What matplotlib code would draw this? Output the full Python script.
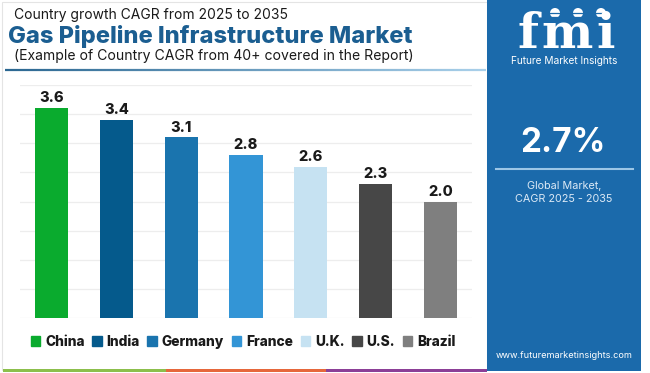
import matplotlib.pyplot as plt
import matplotlib.patches as mpatches
from matplotlib.collections import LineCollection
import matplotlib.colors as mcolors
import numpy as np

# data
countries = ["China", "India", "Germany", "France", "U.K.", "U.S.", "Brazil"]
cagr = [3.6, 3.4, 3.1, 2.8, 2.6, 2.3, 2.0]
bar_colors = ["#0aab2e", "#055a8c", "#1a74ae", "#3395d6", "#c6e2f2", "#474747", "#7f7f7f"]
global_cagr = "2.7%"

plt.rcParams['font.family'] = ['Inter', 'DejaVu Sans']

W, H = 650, 373
fig = plt.figure(figsize=(W / 100, H / 100), dpi=100)

def fx(x):
    return x / W

def fy(y):
    return 1 - y / H

# card border
fig.add_artist(mpatches.Rectangle((fx(2), fy(370)), fx(485), 368 / H, transform=fig.transFigure,
                                  facecolor='none', edgecolor='#e4e4e4', lw=0.8))

# bar chart
ax = fig.add_axes([fx(20), fy(318), fx(472) - fx(20), fy(85) - fy(318)])
x = np.arange(len(countries))
bars = ax.bar(x, cagr, width=0.51, color=bar_colors, zorder=3)
for xi, v in zip(x, cagr):
    ax.text(xi, v + 0.17, f"{v:.1f}", ha='center', va='center', fontsize=10.5,
            fontweight='heavy', color='#1a1a1a')
ax.set_xlim(-0.49, 6.49)
ax.set_ylim(0, 4.0)
ax.set_yticks(np.arange(0, 4.01, 0.5))
ax.grid(axis='y', color='#ededed', lw=0.9, zorder=0)
ax.tick_params(left=False, bottom=False, labelleft=False, labelbottom=False)
for s in ax.spines.values():
    s.set_visible(False)

handles = [mpatches.Patch(color=c, label=n) for c, n in zip(bar_colors, countries)]
leg = fig.legend(handles=handles, loc='center', bbox_to_anchor=(fx(243), fy(342)), ncol=7,
                 frameon=False, handlelength=0.7, handleheight=0.7, handletextpad=0.35,
                 columnspacing=0.55, prop={'weight': 'heavy', 'size': 9.9})
for t in leg.get_texts():
    t.set_color('#1a1a1a')

# titles
fig.text(fx(14), fy(15), "Country growth CAGR from 2025 to 2035", fontsize=10,
         color='#1a1a1a', va='center', ha='left')
fig.text(fx(8), fy(36), "Gas Pipeline Infrastructure Market", fontsize=17,
         fontweight='heavy', color='#1b5e91', va='center', ha='left')
fig.text(fx(14), fy(56), "(Example of Country CAGR from 40+ covered in the Report)", fontsize=10.1,
         color='#1a1a1a', va='center', ha='left')

# gradient underline
xs = np.linspace(5, 486, 120)
segs = [[(fx(a), fy(70)), (fx(b), fy(70))] for a, b in zip(xs[:-1], xs[1:])]
c1 = np.array(mcolors.to_rgb('#2b6791'))
c2 = np.array(mcolors.to_rgb('#a9d0ea'))
cols = [c1 + (c2 - c1) * t for t in np.linspace(0, 1, len(segs))]
fig.add_artist(LineCollection(segs, colors=cols, linewidths=1.6, transform=fig.transFigure))

# bottom stripe
for x0, x1, c in [(3, 166, '#8cbf4c'), (166, 326, '#e6673b'), (326, 487, '#8c3f97')]:
    fig.add_artist(mpatches.Rectangle((fx(x0), fy(372)), fx(x1 - x0), 3.5 / H,
                                      transform=fig.transFigure, color=c, lw=0))

# right panel
panel = '#1b6aab'
fig.add_artist(mpatches.Rectangle((fx(487), fy(371)), fx(154), 371 / H,
                                  transform=fig.transFigure, color=panel, lw=0))

# logo
for ch, cx in [("f", 528), ("m", 567), ("i", 606)]:
    fig.text(fx(cx), fy(48), ch, fontsize=35, fontweight='bold', family='DejaVu Serif',
             color='white', ha='center', va='baseline')
for yy in np.arange(13, 49, 3.6):
    fig.add_artist(plt.Line2D([fx(508), fx(622)], [fy(yy), fy(yy)], color=panel, lw=0.9,
                              transform=fig.transFigure))
for cx in [555, 578, 601]:
    fig.add_artist(mpatches.Ellipse((fx(cx), fy(13)), 10 / W, 10 / H, transform=fig.transFigure,
                                    color='white', lw=0))
fig.text(fx(564), fy(61), "Future Market Insights", fontsize=7.3, color='white',
         ha='center', va='center')

fig.text(fx(563), fy(143), global_cagr, fontsize=24, fontweight='bold', color='white',
         ha='center', va='center')
fig.add_artist(plt.Line2D([fx(496), fx(633)], [fy(169), fy(169)], color='#9cc6e6', lw=1.5,
                          transform=fig.transFigure))
fig.text(fx(564), fy(186), "Global Market,", fontsize=7.8, color='#dbe9f6', ha='center', va='center')
fig.text(fx(564), fy(199.5), "CAGR 2025 - 2035", fontsize=7.8, color='#dbe9f6', ha='center', va='center')
fig.text(fx(564), fy(356), "www.futuremarketinsights.com", fontsize=6.6, color='white',
         ha='center', va='center')

fig.savefig("out.png", dpi=100, facecolor='white')
